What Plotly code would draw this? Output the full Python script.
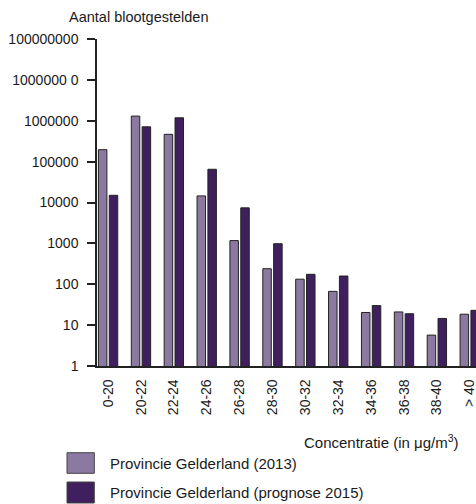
import plotly.graph_objects as go

categories = ["0-20", "20-22", "22-24", "24-26", "26-28", "28-30", "30-32",
              "32-34", "34-36", "36-38", "38-40", "> 40"]
values_2013 = [196000, 1300000, 465000, 14500, 1170, 240, 133, 67, 20.4, 21, 5.7, 18.5]
values_2015 = [15000, 710000, 1180000, 65000, 7400, 980, 175, 159, 30, 19, 14.6, 23]
series_names = ["Provincie Gelderland (2013)", "Provincie Gelderland (prognose 2015)"]
ytick_vals = [1, 10, 100, 1000, 10000, 100000, 1000000, 10000000, 100000000]
ytick_text = ["1", "10", "100", "1000", "10000", "100000", "1000000",
              "1000000 0", "100000000"]
y_title = "Aantal blootgestelden"
x_title = "Concentratie (in μg/m<sup>3</sup>)"

light = "#8b79a1"
dark = "#3f1f5e"
edge = "#222222"
font = "Liberation Sans, Arial, sans-serif"
txt = "#1a1a1a"

W, H = 476, 504
L, R, T = 97, 0, 39
B = H - 366
pw = W - L - R
ph = H - T - B

def px(p):
    return (p - L) / pw

def py(q):
    return (366 - q) / ph

fig = go.Figure()
fig.add_trace(go.Bar(x=categories, y=values_2013, name=series_names[0],
                     marker=dict(color=light, line=dict(color=edge, width=1))))
fig.add_trace(go.Bar(x=categories, y=values_2015, name=series_names[1],
                     marker=dict(color=dark, line=dict(color=edge, width=1))))

fig.update_layout(
    width=W, height=H,
    margin=dict(l=L, r=R, t=T, b=B, autoexpand=False),
    paper_bgcolor="white", plot_bgcolor="white",
    barmode="group", bargap=0.34, bargroupgap=0.217,
    showlegend=False,
    font=dict(family=font, size=14, color=txt),
    xaxis=dict(type="category", range=[-0.337, 11.19], showgrid=False,
               automargin=False,
               showline=True, linecolor=edge, linewidth=1.5,
               ticks="", tickangle=-90, tickfont=dict(size=14), zeroline=False,
               ticklabelstandoff=6),
    yaxis=dict(type="log", range=[0, 8], showgrid=False, zeroline=False,
               automargin=False,
               showline=True, linecolor=edge, linewidth=1.5,
               ticks="outside", ticklen=8, tickwidth=1.5, tickcolor=edge,
               ticklabelstandoff=6,
               tickvals=ytick_vals, ticktext=ytick_text, tickfont=dict(size=14)),
)

annotations = [
    dict(text=y_title, x=px(67), y=py(17), xref="paper", yref="paper",
         xanchor="left", yanchor="middle", showarrow=False, font=dict(size=14.5)),
    dict(text=x_title, x=px(461), y=py(441), xref="paper", yref="paper",
         xanchor="right", yanchor="middle", showarrow=False, font=dict(size=15)),
]
shapes = []
leg_rows = [(452.7, 473.3, light), (482, 503, dark)]
for (y0, y1, col), name in zip(leg_rows, series_names):
    shapes.append(dict(type="rect", xref="paper", yref="paper",
                       x0=px(67), x1=px(94.3), y0=py(y1), y1=py(y0),
                       fillcolor=col, line=dict(color="#444444", width=1)))
    annotations.append(dict(text=name, x=px(108), y=py((y0 + y1) / 2),
                            xref="paper", yref="paper", xanchor="left",
                            yanchor="middle", showarrow=False, font=dict(size=15)))
fig.update_layout(annotations=annotations, shapes=shapes)

fig.write_html(
    "out.html",
    config={"displayModeBar": False},
    post_script="document.body.style.margin='0';document.body.style.overflow='hidden';",
)
